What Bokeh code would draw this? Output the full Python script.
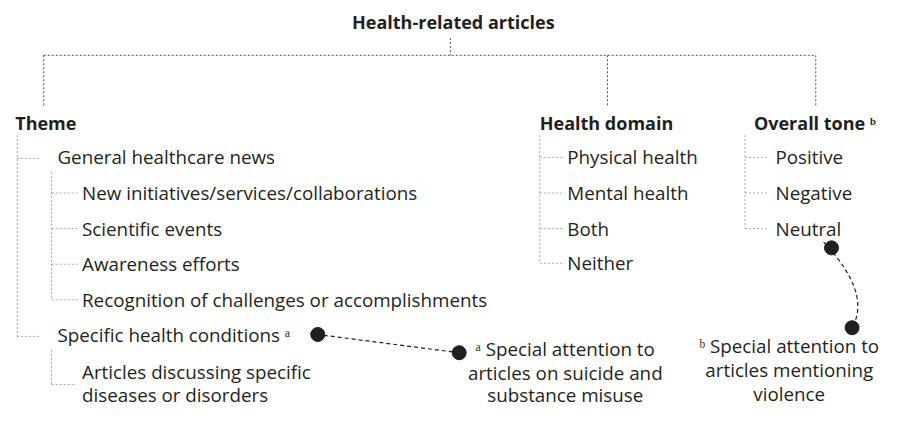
from bokeh.plotting import figure
from bokeh.models import Range1d
from bokeh.core.properties import value
from bokeh.embed import file_html
from bokeh.resources import INLINE

# ---- content ----
root_label = "Health-related articles"
branch_labels = ["Theme", "Health domain", "Overall tone \u1d47"]
theme_groups = ["General healthcare news", "Specific health conditions \u1d43"]
general_items = ["New initiatives/services/collaborations", "Scientific events",
                 "Awareness efforts", "Recognition of challenges or accomplishments"]
specific_items = ["Articles discussing specific", "diseases or disorders"]
domain_items = ["Physical health", "Mental health", "Both", "Neither"]
tone_items = ["Positive", "Negative", "Neutral"]
note_a = ["\u1d43 Special attention to", "articles on suicide and", "substance misuse"]
note_b = ["\u1d47 Special attention to", "articles mentioning", "violence"]

# ---- layout (reference pixels, scaled into the figure) ----
FONT = "Open Sans"
TXT = "#231f20"
DARK = "#555555"
LIGHT = "#a6a6a6"
REG = "18.8px"
BOLD = "18px"
root_xy = (461, 22)
bar_y, stem_top, drop_bottom = 57, 39, 110
branch_x = [15, 549, 767]
drop_x = [44, 618, 830]
head_y = 127
row_y = [163, 200, 237, 274, 311, 348]

p = figure(width=885, height=410, output_backend="svg", toolbar_location=None,
           x_range=Range1d(0, 901), y_range=Range1d(426, 0), min_border=0)
p.axis.visible = False
p.grid.visible = False
p.outline_line_color = None
p.background_fill_color = "white"


def txt(x, y, s, size=REG, bold=False, align="left"):
    p.text(x=x, y=y, text=s, text_font=value(FONT), text_font_size=size,
           text_font_style="bold" if bold else "normal", text_color=TXT,
           text_align=align, text_baseline="middle")


def seg(x0, y0, x1, y1, color=LIGHT, dash="2 2"):
    p.segment(x0=x0, y0=y0, x1=x1, y1=y1, line_color=color, line_width=1, line_dash=dash)


# root and top connectors
txt([root_xy[0]], [root_xy[1]], [root_label], size=BOLD, bold=True, align="center")
seg([458], [stem_top], [458], [bar_y], color=DARK)
seg([drop_x[0]], [bar_y], [drop_x[-1]], [bar_y], color=DARK)
seg(drop_x, [bar_y] * 3, drop_x, [drop_bottom] * 3, color=DARK)
txt(branch_x, [head_y] * 3, branch_labels, size=BOLD, bold=True)

# Theme branch
g_y = [row_y[0], row_y[5]]
seg([17], [140], [17], [g_y[-1] + 2])
seg([17] * 2, [y + 1 for y in g_y], [40] * 2, [y + 1 for y in g_y])
txt([58] * 2, g_y, theme_groups)
gi_y = row_y[1:5]
seg([52], [178], [52], [gi_y[-1]])
seg([52] * 4, gi_y, [80] * 4, gi_y)
txt([83] * 4, gi_y, general_items)
seg([52], [363], [52], [399])
seg([52], [399], [77], [399])
txt([83] * 2, [386, 410], specific_items)

# Health domain branch
d_y = [163, 200, 237, 273]
seg([549], [140], [549], [d_y[-1]])
seg([549] * 4, d_y, [574] * 4, d_y)
txt([577] * 4, d_y, domain_items)

# Overall tone branch
t_y = [163, 200, 237]
seg([758], [140], [758], [t_y[-1]])
seg([758] * 3, t_y, [780] * 3, t_y)
txt([789] * 3, t_y, tone_items)

# annotations
p.segment(x0=[315], y0=[346], x1=[467], y1=[366], line_color="#231f20", line_width=1.2,
          line_dash="4 3")
p.quadratic(x0=[838], y0=[251], x1=[867], y1=[340], cx=[887], cy=[304],
            line_color="#231f20", line_width=1.2, line_dash="4 3")
p.scatter(x=[323, 467, 846, 867], y=[347, 366, 257, 340], size=14,
          fill_color="#231f20", line_color="#231f20")
txt([575] * 3, [362, 387, 410], note_a, align="center")
txt([803] * 3, [359, 384, 409], note_b, align="center")

open("out.html", "w").write(file_html(p, INLINE))
